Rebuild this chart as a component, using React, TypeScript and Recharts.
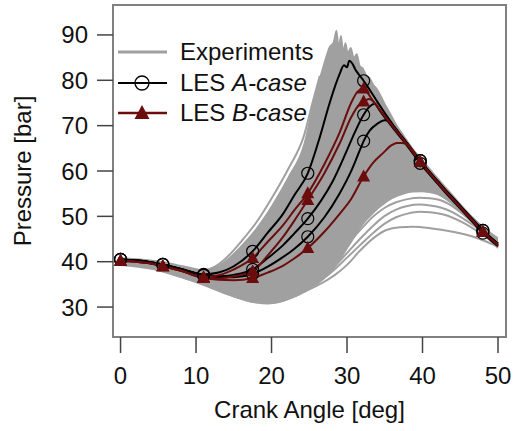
import React from 'react'
import {
  ComposedChart, Area, Line, XAxis, YAxis, ReferenceArea, Label,
} from 'recharts'

const FONT = '"Liberation Sans", Arial, Helvetica, sans-serif'
const GRAY = '#a0a0a0'
const RED = '#6b0d0d'

const X_TICKS = [0, 10, 20, 30, 40, 50]
const Y_TICKS = [30, 40, 50, 60, 70, 80, 90]

// crank angles where the LES markers sit
const MARK_X = [0, 5.6, 11, 17.5, 24.8, 32.2, 39.7, 48]

// experimental envelope (min / max of all cycles)
const ENV_X = [0, 2, 4, 5.6, 8, 10, 11, 12.5, 14.1, 16.2, 18, 20.2, 22.3, 24.3, 25.5, 26.5, 27.2, 27.7, 28.2, 28.6, 28.9, 29.2, 29.5, 29.8, 30.1, 30.5, 30.9, 31.3, 31.7, 32.1, 32.6, 33, 33.5, 34, 34.5, 35, 35.5, 36, 36.6, 37.5, 38.7, 40, 41.9, 43.5, 44.9, 46.5, 48, 50]
const ENV_HI = [40.8, 40.6, 40.3, 40, 39.1, 38.4, 38.1, 38.6, 40.4, 43.8, 47.3, 52.7, 58.8, 65.8, 74.5, 81, 85, 87.4, 88.3, 91, 87.5, 89.8, 86.5, 88.2, 86, 87.2, 85, 85.8, 83.2, 82.6, 81, 80.5, 79, 78, 76.5, 74.8, 73.3, 71.8, 70, 67.8, 64.9, 62.4, 58.6, 55.6, 52.9, 50, 47.7, 45.2]
const ENV_LO = [39.3, 39.1, 38.5, 37.9, 36.6, 35.5, 34.9, 33.9, 32.9, 31.7, 31, 30.9, 31.8, 33.5, 34.6, 35.7, 36.7, 37.5, 38.5, 39.4, 40.1, 40.9, 41.6, 42.4, 43.2, 44.2, 45.3, 46.4, 47.4, 48.3, 49.3, 50, 50.8, 51.6, 52.3, 52.9, 53.5, 54, 54.5, 55, 55.4, 55.5, 54.9, 53.3, 51.4, 49, 46.3, 43]

// fast cycles on the early edge of the bundle
const EXP_FAST1 = [[11, 38], [12.5, 38.9], [14.1, 41], [16.2, 44.9], [18, 48.7], [20.2, 54.5], [22.3, 60.7], [24.3, 67.8], [25.5, 75.5], [26.4, 81]]
const EXP_FAST2 = [[14.1, 40.1], [16.2, 43.2], [18, 46.4], [20.2, 51.5], [22.3, 57.4], [24.3, 64.3], [25.5, 70.5], [26.5, 77]]

// slow cycles that separate from the bundle
const EXP_LOW1 = [[0, 39.3], [4, 38.5], [8, 36.6], [11, 34.9], [14, 32.9], [16, 31.8], [18, 31], [19.5, 30.8], [21, 31.1], [23, 32.3], [25, 33.9], [27, 35.6], [28.5, 37.2], [30, 39.3], [31.7, 42.4], [33.5, 45.2], [35.2, 47], [37, 47.6], [38.7, 47.7], [41, 47.4], [44, 46.6], [46.7, 45.5], [48.5, 44.4], [50, 43.3]]
const EXP_LOW2 = [[26, 36], [28, 39.5], [30, 43.6], [31.7, 46.9], [33.5, 50], [35, 51.9], [36.5, 53.1], [38, 53.8], [39.6, 54.1], [41, 54], [42.3, 53.6], [43.5, 52.7], [44.5, 51.6], [46, 49.6], [48, 46.4], [50, 43.2]]
const EXP_LOW3 = [[26, 35.5], [28, 38.4], [30, 41.9], [31.7, 45], [33.5, 48], [35, 50.1], [36.5, 51.5], [38, 52.3], [39.6, 52.6], [41, 52.4], [42.5, 51.9], [44, 50.9], [45.5, 49.4], [47, 47.7], [48.5, 45.7], [50, 43.4]]
const EXP_LOW4 = [[26, 35.2], [28, 37.8], [30, 40.9], [31.7, 43.6], [33.5, 46.4], [35, 48.4], [36.5, 49.8], [38, 50.6], [39.6, 51], [41, 50.9], [42.5, 50.5], [44, 49.7], [45.5, 48.5], [47, 47], [48.5, 45.3], [50, 43.4]]

// common expansion stroke after the peaks
const TRUNK = [[39.7, 62], [41, 59.4], [42, 57.5], [43, 55.6], [44, 53.8], [45, 52], [46, 50.2], [47, 48.4], [48, 46.6], [49, 45.1], [50, 43.7]]
const TRUNK_UP = [[39.7, 62.3], [41, 59.7], [42, 57.8], [43, 55.9], [44, 54.1], [45, 52.3], [46, 50.5], [47, 48.7], [48, 46.9], [49, 45.4], [50, 44]]
const TRUNK_DN = [[39.7, 61.7], [41, 59.1], [42, 57.2], [43, 55.3], [44, 53.5], [45, 51.7], [46, 49.9], [47, 48.1], [48, 46.3], [49, 44.8], [50, 43.4]]

const LES_A1 = [[0, 40.5], [2, 40.3], [4, 39.9], [5.6, 39.4], [8, 38.4], [11, 37.2], [13, 37.6], [15, 39], [17.5, 42.3], [19.5, 46.4], [21.5, 50.5], [23, 54.6], [24.8, 59.5], [26.4, 67.5], [27.7, 75], [29, 81.3], [29.6, 83.3], [30, 82.9], [30.3, 84.3], [30.7, 83.7], [31.1, 82.4], [31.6, 81.2], [32.2, 79.9], [33, 77.9], [34, 75.3], [35, 72.8], [36, 70.4], [37, 68.2], [38, 66.1], ...TRUNK_UP]
const LES_A2 = [[0, 40.5], [2, 40.3], [4, 39.9], [5.6, 39.4], [8, 38.4], [11, 37.1], [13, 36.8], [15, 37.1], [17.5, 38.3], [19.5, 40.8], [21.5, 43.6], [23, 46.2], [24.8, 49.5], [26.5, 53.3], [28, 57.4], [30, 64.6], [31, 68.4], [32.2, 72.4], [33, 74.2], [33.7, 74.8], [34.3, 73.4], [35, 71.8], [36, 69.7], [37, 67.6], [38, 65.5], ...TRUNK_DN]
const LES_A3 = [[0, 40.5], [2, 40.3], [4, 39.9], [5.6, 39.4], [8, 38.4], [11, 37], [13, 36.6], [15, 36.6], [17.5, 37.3], [19.5, 38.9], [21.5, 41], [23, 42.8], [24.8, 45.5], [27, 49.8], [29, 55], [30.5, 59.8], [31.7, 64.6], [32.2, 66.6], [33, 68.9], [34, 70.4], [35, 71.2], [35.6, 71], [36, 70.2], [37, 68.1], [38, 66], ...TRUNK_UP]

const LES_B1 = [[0, 40.2], [2, 40], [4, 39.6], [5.6, 39], [8, 38], [11, 36.6], [13, 37], [15, 38.3], [17.5, 40.8], [19.5, 44.4], [21.5, 48], [23, 51.3], [24.8, 55.1], [27, 61.5], [29, 68.4], [30.6, 75.2], [31.4, 77.5], [32.2, 78.2], [32.7, 77.3], [33.3, 75.8], [34, 74.2], [35, 72.1], [36, 70], [37, 67.9], [38, 65.8], ...TRUNK]
const LES_B2 = [[0, 40.2], [2, 40], [4, 39.6], [5.6, 39], [8, 38], [11, 36.5], [13, 36.3], [15, 36.8], [17.5, 37.9], [19.5, 41.4], [21.5, 45.4], [23, 49], [24.8, 53.6], [27, 59.5], [29, 66], [30.6, 72], [31.6, 74.6], [32.2, 75.3], [32.9, 75.9], [33.5, 75.3], [34, 74.2], [35, 72.1], [36, 70], [37, 67.9], [38, 65.8], ...TRUNK]
const LES_B3 = [[0, 40.2], [2, 40], [4, 39.6], [5.6, 39], [8, 38], [11, 36.4], [13, 36], [15, 35.9], [17.5, 36.4], [19.5, 37.6], [21.5, 39.1], [23, 40.7], [24.8, 43], [27, 46.6], [29, 50.5], [30.5, 53.7], [32.2, 58.8], [33.5, 61.9], [34.8, 64], [35.8, 65.6], [36.6, 66.2], [37.3, 66.2], [38, 65.8], ...TRUNK]

const toRows = (pts: number[][]) => pts.map(([x, y]) => ({ x, y }))
const envRows = ENV_X.map((x, i) => ({ x, range: [ENV_LO[i], ENV_HI[i]] }))

const circleDot = (p: any) => {
  const { cx, cy, payload, index } = p
  if (!MARK_X.includes(payload.x)) return <g key={`c${index}`} />
  return <circle key={`c${index}`} cx={cx} cy={cy} r={6} fill="none" stroke="#000" strokeWidth={1.2} />
}

const triDot = (p: any) => {
  const { cx, cy, payload, index } = p
  if (!MARK_X.includes(payload.x)) return <g key={`t${index}`} />
  return <polygon key={`t${index}`} points={`${cx},${cy - 7} ${cx - 6.5},${cy + 5} ${cx + 6.5},${cy + 5}`} fill={RED} />
}

export default function App() {
  const tick = { fontSize: 24, fill: '#111', fontFamily: FONT }
  return (
    <div style={{ position: 'absolute', left: 0, top: 0, width: 515, height: 431, background: '#fff', fontFamily: FONT }}>
      <ComposedChart width={515} height={431} margin={{ top: 5, right: 9, bottom: 0, left: 0 }}>
        <XAxis
          type="number" dataKey="x" domain={[-1, 51.06]} ticks={X_TICKS} allowDataOverflow
          height={94} axisLine={false} tickSize={16} tickMargin={14}
          tickLine={{ stroke: '#444', strokeWidth: 1.5 }} tick={tick}
        >
          <Label content={({ viewBox }: any) => (
            <text x={viewBox.x + viewBox.width / 2} y={viewBox.y + 81} textAnchor="middle" fontSize={24} fontFamily={FONT} fill="#111">
              Crank Angle [deg]
            </text>
          )} />
        </XAxis>
        <YAxis
          type="number" domain={[23.4, 96.6]} ticks={Y_TICKS} allowDataOverflow
          width={113} axisLine={false} tickSize={16} tickMargin={9}
          tickLine={{ stroke: '#444', strokeWidth: 1.5 }} tick={tick}
        >
          <Label content={({ viewBox }: any) => {
            const cx = 22
            const cy = viewBox.y + viewBox.height / 2
            return (
              <text x={cx} y={cy} transform={`rotate(-90 ${cx} ${cy})`} textAnchor="middle" dominantBaseline="central" fontSize={24} fontFamily={FONT} fill="#111">
                Pressure [bar]
              </text>
            )
          }} />
        </YAxis>

        <Area data={envRows} dataKey="range" type="monotone" fill={GRAY} fillOpacity={1} stroke={GRAY} strokeWidth={1.5} isAnimationActive={false} activeDot={false} />
        {[EXP_FAST1, EXP_FAST2, EXP_LOW1, EXP_LOW2, EXP_LOW3, EXP_LOW4].map((s, i) => (
          <Line key={`e${i}`} data={toRows(s)} dataKey="y" type="monotone" stroke={GRAY} strokeWidth={2} dot={false} activeDot={false} isAnimationActive={false} />
        ))}
        {[LES_A1, LES_A2, LES_A3].map((s, i) => (
          <Line key={`a${i}`} data={toRows(s)} dataKey="y" type="monotone" stroke="#000" strokeWidth={2} dot={circleDot} activeDot={false} isAnimationActive={false} />
        ))}
        {[LES_B1, LES_B2, LES_B3].map((s, i) => (
          <Line key={`b${i}`} data={toRows(s)} dataKey="y" type="monotone" stroke={RED} strokeWidth={2} dot={triDot} activeDot={false} isAnimationActive={false} />
        ))}

        <ReferenceArea x1={-1} x2={51.06} y1={23.4} y2={96.6} fill="none" stroke="#808080" strokeWidth={2} ifOverflow="visible" />
      </ComposedChart>

      <svg width={515} height={140} style={{ position: 'absolute', left: 0, top: 0, pointerEvents: 'none' }}>
        <line x1={118} x2={167} y1={52} y2={52} stroke={GRAY} strokeWidth={3} />
        <text x={180} y={60} fontSize={24} fontFamily={FONT} fill="#111">Experiments</text>
        <line x1={118} x2={167} y1={83} y2={83} stroke="#000" strokeWidth={2} />
        <circle cx={142} cy={83} r={7} fill="none" stroke="#000" strokeWidth={1.3} />
        <text x={180} y={91} fontSize={24} fontFamily={FONT} fill="#111">LES <tspan fontStyle="italic">A-case</tspan></text>
        <line x1={118} x2={167} y1={113} y2={113} stroke={RED} strokeWidth={2.5} />
        <polygon points="142,105 134.5,119 149.5,119" fill={RED} />
        <text x={180} y={121} fontSize={24} fontFamily={FONT} fill="#111">LES <tspan fontStyle="italic">B-case</tspan></text>
      </svg>
    </div>
  )
}
